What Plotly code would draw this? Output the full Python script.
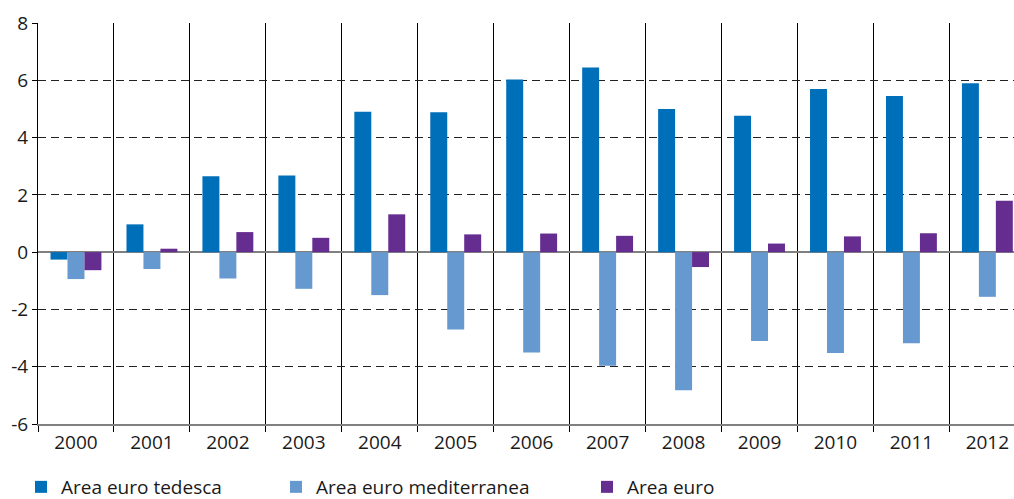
import plotly.graph_objects as go

years = ["2000", "2001", "2002", "2003", "2004", "2005", "2006",
         "2007", "2008", "2009", "2010", "2011", "2012"]
tedesca = [-0.26, 0.97, 2.65, 2.68, 4.9, 4.88, 6.03, 6.45, 5.0, 4.76, 5.7, 5.45, 5.9]
mediterranea = [-0.94, -0.59, -0.92, -1.28, -1.5, -2.7, -3.5, -3.97, -4.82, -3.1, -3.52, -3.18, -1.56]
euro = [-0.63, 0.12, 0.70, 0.50, 1.32, 0.62, 0.65, 0.57, -0.52, 0.30, 0.55, 0.66, 1.79]

names = ["Area euro tedesca", "Area euro mediterranea", "Area euro"]
colors = ["#006FB9", "#6699CF", "#662D91"]
yticks = [-6, -4, -2, 0, 2, 4, 6, 8]

# body margin removed by post_script, figure placed at (0, 0)
OFF = 0
W, H = 1014 - OFF, 499 - OFF
L, R, T = 38 - OFF, 0, 23 - OFF
B = H - (424 - OFF)
pw = W - L - R
ph = H - T - B

fig = go.Figure()
series = [tedesca, mediterranea, euro]
legends = ["legend", "legend2", "legend3"]
for s, n, c, lg in zip(series, names, colors, legends):
    fig.add_trace(go.Bar(x=years, y=s, name=n, marker=dict(color=c, line=dict(width=0)),
                         legend=lg))

font = dict(family="Open Sans", size=19, color="#1a1a1a")

def lx(page_px):
    return (page_px - OFF - L) / pw

ly = ((H - B) - (487 - OFF)) / ph

leg_common = dict(orientation="h", xanchor="left", yanchor="middle", y=ly,
                  font=font, bgcolor="rgba(0,0,0,0)", borderwidth=0,
                  itemclick=False, itemdoubleclick=False)

fig.update_layout(
    width=W, height=H,
    margin=dict(l=L, r=R, t=T, b=B, autoexpand=False),
    paper_bgcolor="white", plot_bgcolor="white",
    barmode="group", bargap=0.33, bargroupgap=0,
    font=font,
    showlegend=True,
    legend=dict(x=lx(21), **leg_common),
    legend2=dict(x=lx(276), **leg_common),
    legend3=dict(x=lx(587), **leg_common),
    xaxis=dict(
        type="category", range=[-0.5, -0.5 + pw / 75.95],
        tickson="boundaries", ticks="outside", ticklen=6, tickcolor="black", tickwidth=1,
        showgrid=True, gridcolor="black", gridwidth=1,
        showline=True, linecolor="#808080", linewidth=2,
        tickfont=font, automargin=False, fixedrange=True,
    ),
    yaxis=dict(
        range=[-6, 8], tickvals=yticks, ticktext=[str(v) for v in yticks],
        ticks="outside", ticklen=5, tickcolor="black", tickwidth=1,
        showgrid=True, gridcolor="#222", gridwidth=1, griddash="8px,5px",
        zeroline=True, zerolinecolor="#808080", zerolinewidth=2,
        showline=True, linecolor="black", linewidth=1,
        tickfont=font, automargin=False, fixedrange=True,
    ),
)

fig.write_html(
    "out.html",
    config={"displayModeBar": False},
    post_script=("document.body.style.margin='0';"
                 "document.documentElement.style.overflow='hidden';"
                 "document.body.style.overflow='hidden';"),
)
